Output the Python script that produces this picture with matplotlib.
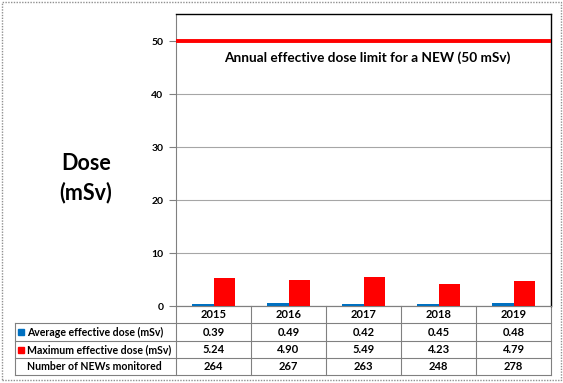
import matplotlib
matplotlib.use("Agg")
import matplotlib.pyplot as plt
import numpy as np
from matplotlib.patches import Rectangle

plt.rcParams['font.family'] = ['Lato', 'DejaVu Sans']

years = ["2015", "2016", "2017", "2018", "2019"]
avg_dose = [0.39, 0.49, 0.42, 0.45, 0.48]
max_dose = [5.24, 4.90, 5.49, 4.23, 4.79]
n_monitored = [264, 267, 263, 248, 278]
row_labels = ["Average effective dose (mSv)", "Maximum effective dose (mSv)", "Number of NEWs monitored"]
dose_limit = 50
yticks = [0, 10, 20, 30, 40, 50]

BLUE = "#0070C0"
RED = "#FF0000"
GRID = "#A6A6A6"
LINE = "#808080"

W, H = 563, 383
fig = plt.figure(figsize=(W / 100, H / 100), dpi=100)

ax = fig.add_axes([176 / W, 1 - 306 / H, (551 - 176) / W, (306 - 14) / H])
x = np.arange(len(years))
bw = 0.29
ax.bar(x - bw / 2, avg_dose, bw, color=BLUE, zorder=3)
ax.bar(x + bw / 2, max_dose, bw, color=RED, zorder=3)
ax.axhline(dose_limit, color=RED, lw=2.8, zorder=4, solid_capstyle="butt")
ax.text(0.51, 0.852, "Annual effective dose limit for a NEW (50 mSv)", transform=ax.transAxes,
        ha="center", va="center", fontsize=9.8, fontweight="bold")

ax.set_xlim(-0.5, len(years) - 0.5)
ax.set_ylim(0, 55.1)
ax.set_yticks(yticks)
ax.set_yticklabels([str(t) for t in yticks], fontsize=7.5, fontweight="bold")
ax.set_xticks([])
ax.yaxis.grid(True, color=GRID, lw=0.8, zorder=0)
ax.set_axisbelow(True)
ax.tick_params(axis="y", length=5, color=LINE, pad=4)
for s in ["top", "right"]:
    ax.spines[s].set_color("black")
    ax.spines[s].set_linewidth(1.0)
ax.spines["left"].set_color(LINE)
ax.spines["bottom"].set_color(LINE)

fig.text(86 / W, 1 - 178 / H, "Dose\n(mSv)", ha="center", va="center",
         fontsize=15.5, fontweight="bold", linespacing=1.45)

# Table drawn in axes coordinates
ax_w = 551 - 176
ax_h = 306 - 14
def ax_x(px):
    return (px - 176) / ax_w
def ax_y(py):
    return (306 - py) / ax_h

row_edges = [306, 323, 341, 358, 375]
col_edges = [176 + 75 * i for i in range(len(years) + 1)]
lab_left = 15
kw = dict(transform=ax.transAxes, color=LINE, lw=0.8, clip_on=False)
ax.plot([ax_x(176), ax_x(551)], [ax_y(306), ax_y(306)], **kw)
for ry in row_edges[1:]:
    ax.plot([ax_x(lab_left), ax_x(551)], [ax_y(ry), ax_y(ry)], **kw)
for cx in col_edges:
    ax.plot([ax_x(cx), ax_x(cx)], [ax_y(306), ax_y(375)], **kw)
ax.plot([ax_x(lab_left), ax_x(lab_left)], [ax_y(323), ax_y(375)], **kw)

tkw = dict(transform=ax.transAxes, ha="center", va="center", fontsize=8,
           fontweight="bold", clip_on=False)
rows = [years, [f"{v:.2f}" for v in avg_dose], [f"{v:.2f}" for v in max_dose],
        [str(v) for v in n_monitored]]
for r, vals in enumerate(rows):
    yc = ax_y((row_edges[r] + row_edges[r + 1]) / 2)
    for c, v in enumerate(vals):
        xc = ax_x((col_edges[c] + col_edges[c + 1]) / 2)
        ax.text(xc, yc, v, **tkw)

colors = [BLUE, RED, None]
for r, lab in enumerate(row_labels):
    yc_px = (row_edges[r + 1] + row_edges[r + 2]) / 2
    if colors[r]:
        ax.add_patch(Rectangle((ax_x(18), ax_y(yc_px + 3)), 6 / ax_w, 6 / ax_h,
                               transform=ax.transAxes, color=colors[r], clip_on=False))
    ax.text(ax_x(27), ax_y(yc_px), lab, transform=ax.transAxes, ha="left", va="center",
            fontsize=7.6, fontweight="bold", clip_on=False)

fig.patches.append(Rectangle((2 / W, 1 - 380 / H), 559 / W, 378 / H, transform=fig.transFigure,
                             fill=False, ec="#909090", lw=1.0, ls=(0, (1, 1))))

fig.savefig("out.png", dpi=100)
